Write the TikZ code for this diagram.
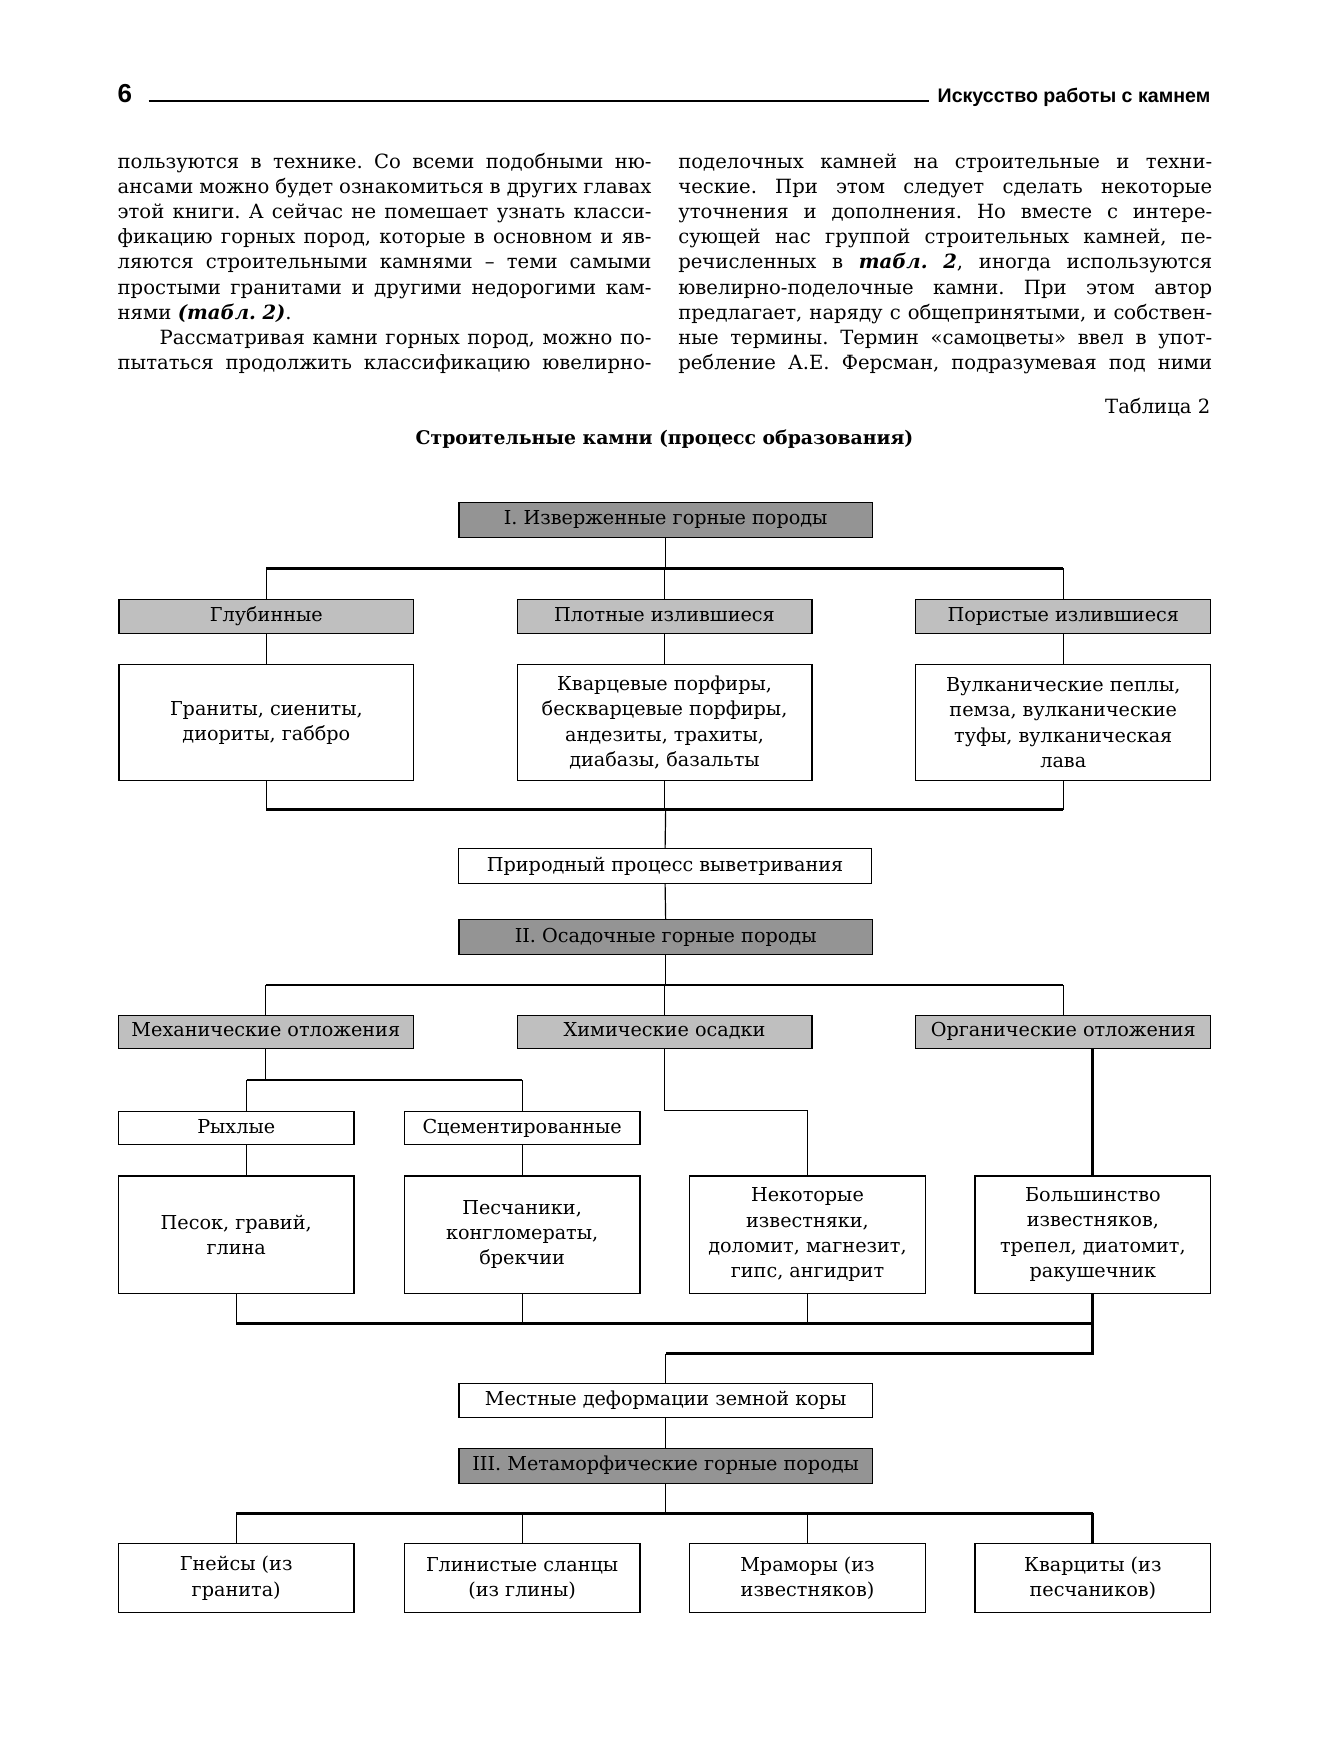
\documentclass[tikz,border=0pt]{standalone}
\usepackage{fontspec}
\setmainfont{DejaVu Serif}
\newfontfamily\headfont{Liberation Sans}
\usetikzlibrary{positioning}
\frenchspacing
\newcommand{\upx}{0.5584pt}
\newlength{\colw}
\setlength{\colw}{266.9pt}
\newcommand{\boxfont}{\fontsize{9.6}{12.6}\selectfont}
\newcommand{\bodyfont}{\fontsize{9.8}{12.54}\selectfont}
\newcommand{\jline}[1]{{\spaceskip=0.32em plus 3em minus 0.14em\hbox to\colw{#1}}\par}
\newcommand{\tabref}[1]{\textbf{\textit{#1}}}
\tikzset{%
	mainbox/.style  = {draw, rectangle, line width=0.6pt, fill=black!42, minimum width=370*\upx, minimum height=31*\upx, inner sep=0pt, text height=7pt, text depth=2pt, font=\boxfont}, % class
	groupbox/.style = {draw, rectangle, line width=0.6pt, fill=black!25, minimum width=264*\upx, minimum height=30*\upx, inner sep=0pt, text height=7pt, text depth=2pt, font=\boxfont}, % group
	stepbox/.style  = {draw, rectangle, line width=0.6pt, fill=white, minimum width=370*\upx, minimum height=31*\upx, inner sep=0pt, text height=7pt, text depth=2pt, font=\boxfont}, % process
	labelbox/.style = {draw, rectangle, line width=0.6pt, fill=white, minimum width=211*\upx, minimum height=30*\upx, inner sep=0pt, text height=7pt, text depth=2pt, font=\boxfont}, % subgroup
	listbox/.style  = {draw, rectangle, line width=0.6pt, fill=white, minimum width=264*\upx, minimum height=104*\upx, inner sep=0pt, align=center, font=\boxfont}, % rocks
	smallbox/.style = {draw, rectangle, line width=0.6pt, fill=white, minimum width=211*\upx, inner sep=0pt, align=center, font=\boxfont}, % lower rows
	column/.style   = {anchor=base west, inner sep=0pt, text width=\colw, font=\bodyfont},
	bus/.style      = {line width=1.4pt},
	link/.style     = {line width=0.6pt},
}
\begin{document}
\begin{tikzpicture}[x=\upx, y=-\upx]
	\useasboundingbox (0,0) rectangle (1190,1566);
	% page head
	\node[anchor=base west, inner sep=0pt, font=\headfont\bfseries\fontsize{13}{13}\selectfont] (pagenum) at (105,92) {6};
	\node[anchor=base east, inner sep=0pt, font=\headfont\bfseries\fontsize{9.8}{12}\selectfont] (running) at (1084,92) {Искусство работы с камнем};
	\draw[line width=0.7pt] (133,90.5) -- (832,90.5);
	% text
	\node[column] (leftcol) at (105,151) {%
		\jline{пользуются в технике. Со всеми подобными ню-}
		\jline{ансами можно будет ознакомиться в других главах}
		\jline{этой книги. А сейчас не помешает узнать класси-}
		\jline{фикацию горных пород, которые в основном и яв-}
		\jline{ляются строительными камнями – теми самыми}
		\jline{простыми гранитами и другими недорогими кам-}
		\mbox{нями \tabref{(табл. 2)}.}\par
		\jline{\hspace{21pt}Рассматривая камни горных пород, можно по-}
		\jline{пытаться продолжить классификацию ювелирно-}};
	\node[column] (rightcol) at (607,151) {%
		\jline{поделочных камней на строительные и техни-}
		\jline{ческие. При этом следует сделать некоторые}
		\jline{уточнения и дополнения. Но вместе с интере-}
		\jline{сующей нас группой строительных камней, пе-}
		\jline{речисленных в \tabref{табл. 2}, иногда используются}
		\jline{ювелирно-поделочные камни. При этом автор}
		\jline{предлагает, наряду с общепринятыми, и собствен-}
		\jline{ные термины. Термин «самоцветы» ввел в упот-}
		\jline{ребление А.Е. Ферсман, подразумевая под ними}};
	\node[anchor=base east, inner sep=0pt, font=\bodyfont] (tabno) at (1084,370) {Таблица 2};
	\node[anchor=base, inner sep=0pt, font=\bfseries\fontsize{9.4}{12}\selectfont] (title) at (595,398) {Строительные камни (процесс образования)};

	% I
	\node[mainbox] (ign) at (596,465.5) {I. Изверженные горные породы};
	\coordinate (bus1) at (596,509);
	\node[groupbox] (deep) at (238.5,552) {Глубинные};
	\node[groupbox] (dense) at (595,552) {Плотные излившиеся};
	\node[groupbox] (porous) at (952,552) {Пористые излившиеся};
	\node[listbox] (deepL) at (238.5,647) {Граниты, сиениты,\\диориты, габбро};
	\node[listbox] (denseL) at (595,647) {Кварцевые порфиры,\\бескварцевые порфиры,\\андезиты, трахиты,\\диабазы, базальты};
	\node[listbox] (porousL) at (952,647) {Вулканические пеплы,\\пемза, вулканические\\туфы, вулканическая\\лава};
	\coordinate (bus2) at (596,725);
	\node[stepbox] (weather) at (595.5,775.5) {Природный процесс выветривания};

	\draw[link] (ign.south) -- (bus1);
	\draw[bus] (deep.north |- bus1) -- (porous.north |- bus1);
	\foreach \n in {deep,dense,porous} {
		\draw[link] (\n.north |- bus1) -- (\n.north);
		\draw[link] (\n.south) -- (\n L.north);
		\draw[link] (\n L.south) -- (\n L.south |- bus2);
	}
	\draw[bus] (deepL.south |- bus2) -- (porousL.south |- bus2);
	\draw[link] (bus2) -- (weather.north);

	% II
	\node[mainbox] (sed) at (596,839) {II. Осадочные горные породы};
	\coordinate (bus3) at (596,882);
	\node[groupbox] (mech) at (238,924) {Механические отложения};
	\node[groupbox] (chem) at (595,924) {Химические осадки};
	\node[groupbox] (org) at (952,924) {Органические отложения};
	\coordinate (bus4) at (221,967);
	\node[labelbox] (loose) at (211.5,1010) {Рыхлые};
	\node[labelbox] (cem) at (467.5,1010) {Сцементированные};
	\node[smallbox, minimum height=105*\upx] (sand) at (211.5,1105.5) {Песок, гравий,\\глина};
	\node[smallbox, minimum height=105*\upx] (sandst) at (467.5,1105.5) {Песчаники,\\конгломераты,\\брекчии};
	\node[smallbox, minimum height=105*\upx] (lime) at (723,1105.5) {Некоторые\\известняки,\\доломит, магнезит,\\гипс, ангидрит};
	\node[smallbox, minimum height=105*\upx] (most) at (978.5,1105.5) {Большинство\\известняков,\\трепел, диатомит,\\ракушечник};
	\coordinate (bus5) at (596,1185);
	\coordinate (turn) at (596,1212);
	\node[stepbox] (deform) at (596,1254) {Местные деформации земной коры};

	\draw[link] (weather.south) -- (sed.north);
	\draw[link] (sed.south) -- (bus3);
	\draw[bus] (mech.north |- bus3) -- (org.north |- bus3);
	\foreach \n in {mech,chem,org}
		\draw[link] (\n.north |- bus3) -- (\n.north);
	\draw[link] (mech.south) -- (mech.south |- bus4);
	\draw[bus] (bus4) -- (cem.north |- bus4);
	\draw[link] (bus4) -- (bus4 |- loose.north);
	\draw[link] (cem.north |- bus4) -- (cem.north);
	\draw[link] (bus4 |- loose.south) -- (bus4 |- sand.north);
	\draw[link] (cem.south) -- (sandst.north);
	\draw[link] (chem.south) -- (chem.south |- loose.north) -| (lime.north);
	\draw[bus] (most.north |- org.south) -- (most.north);
	\foreach \n in {sand,sandst,lime}
		\draw[link] (\n.south) -- (\n.south |- bus5);
	\draw[bus] (sand.south |- bus5) -- (most.south |- bus5);
	\draw[bus] (most.south) -- (most.south |- turn) -- (turn);
	\draw[link] (turn) -- (deform.north);

	% III
	\node[mainbox] (meta) at (596,1312.5) {III. Метаморфические горные породы};
	\coordinate (bus6) at (596,1355);
	\node[smallbox, minimum height=62*\upx] (gneiss) at (211.5,1413) {Гнейсы (из\\гранита)};
	\node[smallbox, minimum height=62*\upx] (shale) at (467.5,1413) {Глинистые сланцы\\(из глины)};
	\node[smallbox, minimum height=62*\upx] (marble) at (723,1413) {Мраморы (из\\известняков)};
	\node[smallbox, minimum height=62*\upx] (quartz) at (978.5,1413) {Кварциты (из\\песчаников)};

	\draw[link] (deform.south) -- (meta.north);
	\draw[link] (meta.south) -- (bus6);
	\draw[bus] (gneiss.north |- bus6) -- (quartz.north |- bus6);
	\foreach \n in {gneiss,shale,marble}
		\draw[link] (\n.north |- bus6) -- (\n.north);
	\draw[bus] (quartz.north |- bus6) -- (quartz.north);
\end{tikzpicture}
\end{document}
